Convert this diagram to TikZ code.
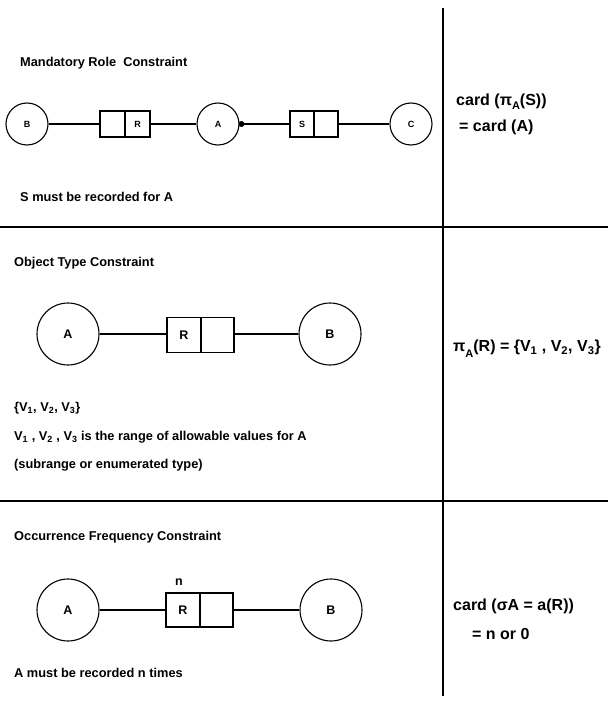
\documentclass[tikz,border=0pt]{standalone}
\usepackage{fontspec}
\setmainfont{Liberation Sans}
\begin{document}
\begin{tikzpicture}[x=1pt,y=-1pt,
  ent/.style={draw,circle,line width=1.1pt,inner sep=0pt,font=\bfseries\fontsize{9}{10}\selectfont},
  entbig/.style={draw,circle,line width=1.1pt,inner sep=0pt,font=\bfseries\fontsize{12.5}{13}\selectfont},
  rolebox/.style={draw,rectangle,line width=1.1pt,inner sep=0pt,outer sep=0pt,font=\bfseries\fontsize{9}{10}\selectfont},
  roleboxbig/.style={draw,rectangle,line width=1.1pt,inner sep=0pt,outer sep=0pt,font=\bfseries\fontsize{12.5}{13}\selectfont},
  conn/.style={line width=1.1pt},
  sep/.style={line width=1.6pt},
  captxt/.style={anchor=west,inner sep=0pt,font=\bfseries\fontsize{12.8}{14}\selectfont},
  formula/.style={anchor=west,inner sep=0pt,font=\bfseries\fontsize{16}{18}\selectfont}
]
\useasboundingbox (0,0) rectangle (608,703);
% separators
\coordinate (h1l) at (0,227); \coordinate (h1r) at (608,227);
\coordinate (h2l) at (0,501); \coordinate (h2r) at (608,501);
\coordinate (vt) at (443,8); \coordinate (vb) at (443,696);
\draw[sep] (h1l) -- (h1r);
\draw[sep] (h2l) -- (h2r);
\draw[sep] (vt) -- (vb);

% ---- Mandatory role ----
\node[captxt] (t1) at (20,63) {Mandatory Role\ \ Constraint};
\node[ent,minimum size=42pt] (b1) at (27,124) {B};
\node[rolebox,minimum width=25pt,minimum height=26pt] (r1a) at (112.5,124) {};
\node[rolebox,minimum width=25pt,minimum height=26pt,anchor=west] (r1b) at (r1a.east) {R};
\node[ent,minimum size=42pt] (a1) at (218,124) {A};
\node[circle,fill,draw,inner sep=0pt,minimum size=5.5pt] (dot) at (241.5,124) {};
\node[rolebox,minimum width=24pt,minimum height=26pt] (s1a) at (302,124) {S};
\node[rolebox,minimum width=24pt,minimum height=26pt,anchor=west] (s1b) at (s1a.east) {};
\node[ent,minimum size=42pt] (c1) at (411,124) {C};
\draw[conn] (b1) -- (r1a);
\draw[conn] (r1b) -- (a1);
\draw[conn] (dot) -- (s1a);
\draw[conn] (s1b) -- (c1);
\node[captxt] (n1) at (20,197) {S must be recorded for A};
\node[formula] (f1a) at (456,102) {card (π\raisebox{-0.5ex}{\fontsize{11}{11}\selectfont A}(S))};
\node[formula] (f1b) at (459,127) {= card (A)};

% ---- Object type ----
\node[captxt] (t2) at (14,263) {Object Type Constraint};
\node[entbig,minimum size=62pt] (a2) at (68,334) {A};
\node[roleboxbig,minimum width=34pt,minimum height=35pt] (r2a) at (184,335) {R};
\node[roleboxbig,minimum width=33pt,minimum height=35pt,anchor=west] (r2b) at (r2a.east) {};
\node[entbig,minimum size=62pt] (b2) at (330,334) {B};
\draw[conn] (a2) -- (a2 -| r2a.west);
\draw[conn] (r2b.east |- b2) -- (b2);
\node[captxt] (n2a) at (14,408) {\{V\textsubscript{1}, V\textsubscript{2}, V\textsubscript{3}\}};
\node[captxt] (n2b) at (14,437) {V\textsubscript{1} , V\textsubscript{2} , V\textsubscript{3} is the range of allowable values for A};
\node[captxt] (n2c) at (14,465) {(subrange or enumerated type)};
\node[formula] (f2) at (453,349) {π\raisebox{-0.7ex}{\fontsize{11}{11}\selectfont A}(R) = \{V\textsubscript{1} , V\textsubscript{2}, V\textsubscript{3}\}};

% ---- Occurrence frequency ----
\node[captxt] (t3) at (14,537) {Occurrence Frequency Constraint};
\node[entbig,minimum size=62pt] (a3) at (68,610) {A};
\node[roleboxbig,minimum width=34pt,minimum height=34pt] (r3a) at (183,610) {R};
\node[roleboxbig,minimum width=33pt,minimum height=34pt,anchor=west] (r3b) at (r3a.east) {};
\node[entbig,minimum size=62pt] (b3) at (331,610) {B};
\node[inner sep=0pt,font=\bfseries\fontsize{12.5}{13}\selectfont] (nn) at (179,582) {n};
\draw[conn] (a3) -- (r3a);
\draw[conn] (r3b) -- (b3);
\node[captxt] (n3) at (14,673) {A must be recorded n times};
\node[formula] (f3a) at (453,606) {card (σA = a(R))};
\node[formula] (f3b) at (472,634) {= n or 0};
\end{tikzpicture}
\end{document}
